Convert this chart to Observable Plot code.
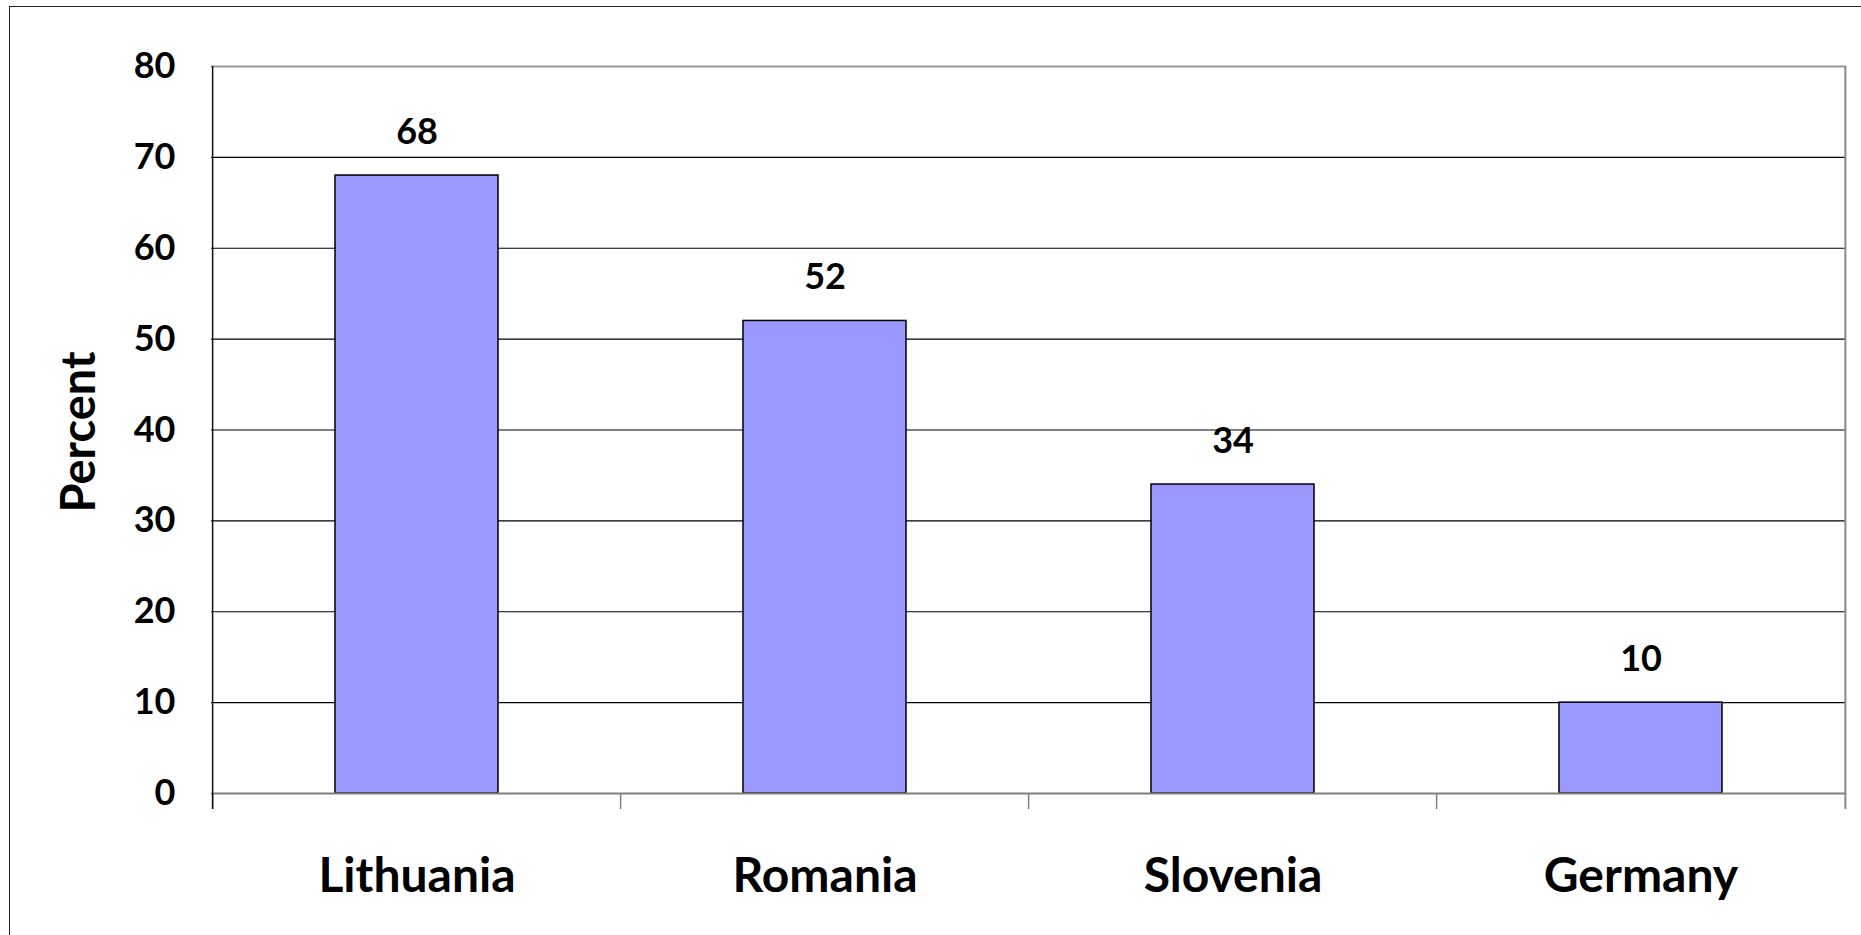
<!DOCTYPE html>
<html>
<head>
<meta charset="utf-8">
<script src="https://cdn.jsdelivr.net/npm/d3@7"></script>
<script src="https://cdn.jsdelivr.net/npm/@observablehq/plot@0.6"></script>
<style>
  html, body { margin: 0; padding: 0; background: #fff; overflow: hidden; }
  #wrap { position: relative; width: 1861px; height: 935px; }
  #border { position: absolute; left: 9px; top: 6px; width: 2000px; height: 2000px; border: 1.5px solid #222; box-sizing: border-box; pointer-events: none; }
  #chart { position: absolute; left: 0; top: 0; }
</style>
</head>
<body>
<div id="wrap"><div id="chart"></div><div id="border"></div></div>
<script>
const categories = ["Lithuania", "Romania", "Slovenia", "Germany"];
const values = [68, 52, 34, 10];
const yTicks = [0, 10, 20, 30, 40, 50, 60, 70, 80];
const gridValues = [10, 20, 30, 40, 50, 60, 70];
const yLabel = "Percent";

const data = categories.map((c, i) => ({category: c, value: values[i]}));

const W = 1861, H = 935;
const mL = 211, mR = 15, mT = 66, mB = 142;
const step = (W - mL - mR) / categories.length;
const font = "Lato, 'Open Sans', sans-serif";

const chart = Plot.plot({
  width: W,
  height: H,
  marginLeft: mL,
  marginRight: mR,
  marginTop: mT,
  marginBottom: mB,
  style: {fontFamily: font, background: "transparent", overflow: "visible"},
  x: {domain: categories, paddingInner: 0.6, paddingOuter: 0.3},
  y: {domain: [0, 80]},
  marks: [
    Plot.ruleY(gridValues, {stroke: "#000", strokeWidth: 1.2}),
    Plot.ruleY([80], {stroke: "#999", strokeWidth: 2}),
    Plot.barY(data, {x: "category", y: "value", fill: "#9999FF", stroke: "#000", strokeWidth: 1.5}),
    Plot.ruleY([0], {stroke: "#808080", strokeWidth: 2}),
    Plot.ruleX(categories, {x: d => d, dx: -step / 2, y1: 0, y2: 0, insetBottom: -16, stroke: "#808080", strokeWidth: 1.5}),
    Plot.ruleX([categories[categories.length - 1]], {x: d => d, dx: step / 2, y1: 80, y2: 0, insetBottom: -16, stroke: "#888", strokeWidth: 2}),
    Plot.ruleX([categories[0]], {x: d => d, dx: -step / 2, y1: 80, y2: 0, insetBottom: -16, stroke: "#111", strokeWidth: 1.5}),
    Plot.axisY(yTicks, {tickSize: 14, tickPadding: 22, fontSize: 36, fontWeight: "bold", fill: "#000", stroke: null, tickFormat: d => String(d), label: null}),
    Plot.axisX({tickSize: 0, tickPadding: 64, fontSize: 48, fontWeight: "bold", fill: "#000", label: null}),
    Plot.text(data, {x: "category", y: "value", text: d => String(d.value), dy: -43, fontSize: 36, fontWeight: "bold", fill: "#000", lineAnchor: "middle"}),
    Plot.text([yLabel], {frameAnchor: "left", rotate: -90, dx: -132, dy: 2, fontSize: 47, fontWeight: "bold", fill: "#000", lineAnchor: "middle", textAnchor: "middle"})
  ]
});
document.getElementById("chart").appendChild(chart);
</script>
</body>
</html>
